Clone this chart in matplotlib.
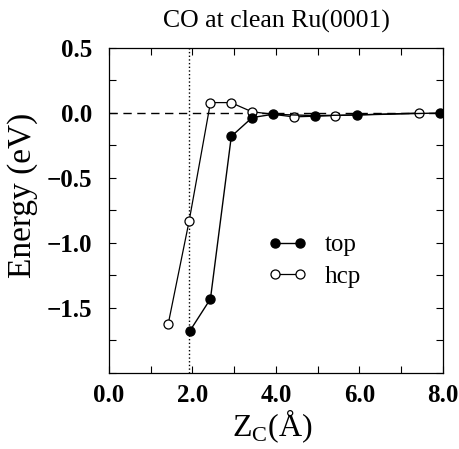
import numpy as np
import matplotlib
matplotlib.use('Agg')
import matplotlib.pyplot as plt
from matplotlib.ticker import MultipleLocator

plt.rcParams['font.family'] = ['Liberation Serif', 'DejaVu Serif']
plt.rcParams['mathtext.fontset'] = 'custom'
plt.rcParams['mathtext.rm'] = 'Liberation Serif'

# CO on top site
z_top = [1.93, 2.43, 2.93, 3.43, 3.93, 4.93, 5.93, 7.93]
e_top = [-1.68, -1.43, -0.18, -0.035, -0.01, -0.02, -0.015, 0.0]

# CO on hcp site
z_hcp = [1.42, 1.92, 2.43, 2.92, 3.42, 4.42, 5.42, 7.42]
e_hcp = [-1.62, -0.83, 0.08, 0.08, 0.01, -0.03, -0.02, 0.0]

z_mark = 1.92

xtick_vals = [0, 2, 4, 6, 8]
xtick_text = ['0.0', '2.0', '4.0', '6.0', '8.0']
ytick_vals = [-1.5, -1.0, -0.5, 0.0, 0.5]
ytick_text = ['\u22121.5', '\u22121.0', '\u22120.5', '0.0', '0.5']

fig = plt.figure(figsize=(4.59, 4.49), dpi=100)
ax = fig.add_axes([0.2375, 0.1693, 0.7275, 0.7238])

ax.axhline(0.0, color='black', linestyle=(0, (6, 4)), linewidth=1.0, zorder=1)
ax.axvline(z_mark, color='black', linestyle=':', linewidth=1.0, zorder=1)

ax.plot(z_top, e_top, 'k-', linewidth=1.0, marker='o', markersize=6.5,
        markerfacecolor='black', markeredgecolor='black', label='top', zorder=3)
ax.plot(z_hcp, e_hcp, 'k-', linewidth=0.9, marker='o', markersize=6.5,
        markerfacecolor='white', markeredgecolor='black', markeredgewidth=0.9,
        label='hcp', zorder=2)

ax.set_xlim(0.0, 8.0)
ax.set_ylim(-2.0, 0.5)
ax.xaxis.set_minor_locator(MultipleLocator(1.0))
ax.yaxis.set_minor_locator(MultipleLocator(0.25))
ax.set_xticks(xtick_vals)
ax.set_xticklabels(xtick_text, fontweight='bold')
ax.set_yticks(ytick_vals)
ax.set_yticklabels(ytick_text, fontweight='bold')
ax.tick_params(which='both', direction='in', top=True, right=True,
               labelsize=18, width=0.8)
ax.tick_params(which='major', length=5)
ax.tick_params(axis='x', which='major', pad=8)
ax.tick_params(axis='y', which='major', pad=12)
ax.tick_params(which='minor', length=5)
for sp in ax.spines.values():
    sp.set_linewidth(0.9)

ax.set_title('CO at clean Ru(0001)', fontsize=18.5, pad=15)
ax.set_ylabel('Energy (eV)', fontsize=24)
ax.yaxis.set_label_coords(-0.212, 0.545)
ax.set_xlabel('Z$_{\\mathrm{C}}$(\u00c5)', fontsize=23)
ax.xaxis.set_label_coords(0.49, -0.105)

ax.legend(loc='center left', bbox_to_anchor=(0.475, 0.345), frameon=False,
          numpoints=2, fontsize=18, handlelength=1.6, handletextpad=0.7,
          labelspacing=0.35, borderaxespad=0.0, borderpad=0.0)

fig.savefig('out.png', dpi=100)
